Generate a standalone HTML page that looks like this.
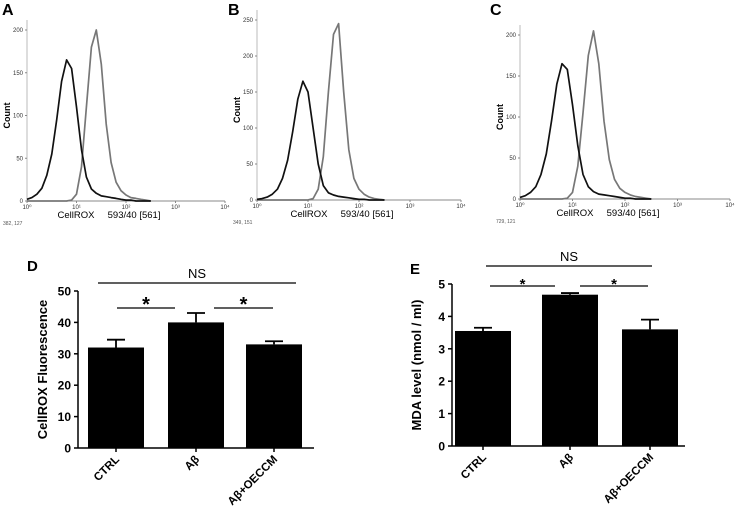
<!DOCTYPE html>
<html><head><meta charset="utf-8"><style>
body{margin:0;background:#fff;width:738px;height:512px;overflow:hidden}
svg{display:block;font-family:"Liberation Sans",sans-serif}
</style></head><body>
<svg id="fig" width="738" height="512" viewBox="0 0 738 512"></svg>
<script>
// ---- Histogram data (counts at log10 steps of 0.1 from 0 to 2.5) ----
const logSteps = [0,0.1,0.2,0.3,0.4,0.5,0.6,0.7,0.8,0.9,1.0,1.1,1.2,1.3,1.4,1.5,1.6,1.7,1.8,1.9,2.0,2.1,2.2,2.3,2.4,2.5];
const blackA = [2,4,8,15,30,55,95,140,165,155,110,60,28,14,9,6,5,4,3,2,1,1,0,0,0,0];
const grayA  = [0,0,0,0,0,0,0,0,0,1,8,40,110,180,200,160,90,45,22,12,7,4,3,2,1,0];
const blackB = [1,2,4,8,15,30,55,95,140,165,150,100,50,20,10,7,5,4,3,2,1,1,0,0,0,0];
const grayB  = [0,0,0,0,0,0,0,0,0,0,0,2,15,60,150,230,245,150,70,30,15,8,4,2,1,0];
const blackC = [2,4,8,15,30,55,95,140,165,158,115,65,30,15,9,6,5,4,3,2,1,1,0,0,0,0];
const grayC  = [0,0,0,0,0,0,0,0,0,1,8,40,105,175,205,165,95,48,24,13,8,5,3,2,1,0];
const decadeLabels = ["10⁰","10¹","10²","10³","10⁴"];
// ---- Bar data ----
const categories = ["CTRL","Aβ","Aβ+OECCM"];
const rosValues = [32,40,33];
const rosErrors = [2.5,3,1];
const rosTicks = [0,10,20,30,40,50];
const mdaValues = [3.55,4.67,3.6];
const mdaErrors = [0.1,0.05,0.3];
const mdaTicks = [0,1,2,3,4,5];

const NS="http://www.w3.org/2000/svg";
const svg=document.getElementById('fig');
function mk(tag,attrs,parent,text){const e=document.createElementNS(NS,tag);for(const k in attrs)e.setAttribute(k,attrs[k]);if(text!==undefined)e.textContent=text;(parent||svg).appendChild(e);return e;}

function histPanel(letter,x0,x1,y0,yTop,yMaxVal,ticksY,black,gray,corner,lx){
  const g=mk('g',{});
  
  
  const xs=l=>x0+(x1-x0)*l/4;
  const ys=v=>y0-(y0-yTop)*v/yMaxVal;
  const lab=mk('text',{x:lx,y:15,'font-size':16,'font-weight':'bold'},g,letter);
  
  
  mk('line',{x1:x0,y1:y0,x2:x0,y2:yTop-10,stroke:'#bbb','stroke-width':1},g);
  mk('line',{x1:x0,y1:y0,x2:x1,y2:y0,stroke:'#888','stroke-width':1},g);
  ticksY.forEach(t=>{const y=ys(t);
    mk('line',{x1:x0-2,y1:y,x2:x0,y2:y,stroke:'#888'},g);
    const tt=mk('text',{x:x0-4,y:y+2,'font-size':6,'text-anchor':'end',fill:'#333'},g,t);
    });
  decadeLabels.forEach((d,i)=>{const x=xs(i);
    mk('line',{x1:x,y1:y0,x2:x,y2:y0+2,stroke:'#888'},g);
    const tt=mk('text',{x:x,y:y0+8,'font-size':6,'text-anchor':'middle',fill:'#333'},g,d);
    });
  const yt=mk('text',{x:0,y:0,'font-size':9,'font-weight':'bold',transform:`translate(${x0-17},${(y0+yTop)/2}) rotate(-90)`,'text-anchor':'middle'},g,'Count');
  
  const xt=mk('text',{x:(x0+x1)/2-17,y:y0+17,'font-size':9.5,'text-anchor':'middle',style:'white-space:pre'},g,'CellROX     593/40 [561]');
  
  const cn=mk('text',{x:x0-24,y:y0+24,'font-size':5,fill:'#555'},g,corner);
  
  [[gray,'#777','gray'],[black,'#111','black']].forEach(([arr,col,nm])=>{
    let d='';arr.forEach((v,i)=>{d+=(i?'L':'M')+xs(logSteps[i]).toFixed(1)+','+ys(v).toFixed(1);});
    const p=mk('path',{d:d,fill:'none',stroke:col,'stroke-width':1.7,'stroke-linejoin':'round'},g);
    
  });
}
histPanel('A',27,225,201,30,200,[0,50,100,150,200],blackA,grayA,'382, 127',2);
histPanel('B',257,461,200,20,250,[0,50,100,150,200,250],blackB,grayB,'349, 151',228);
histPanel('C',520,730,199,35,200,[0,50,100,150,200],blackC,grayC,'729, 121',490);

function barPanel(letter,lx,ly,ax,axEnd,y0,yTop,maxV,ticks,vals,errs,barX,barW,title,sig){
  const g=mk('g',{});
  
  
  const ys=v=>y0-(y0-yTop)*v/maxV;
  const lab=mk('text',{x:lx,y:ly,'font-size':15,'font-weight':'bold'},g,letter);
  
  mk('line',{x1:ax,y1:y0,x2:ax,y2:yTop,stroke:'#000','stroke-width':1.5},g);
  mk('line',{x1:ax,y1:y0,x2:axEnd,y2:y0,stroke:'#000','stroke-width':1.5},g);
  ticks.forEach(t=>{const y=ys(t);
    mk('line',{x1:ax-4,y1:y,x2:ax,y2:y,stroke:'#000','stroke-width':1.5},g);
    const tt=mk('text',{x:ax-7,y:y+4.5,'font-size':12,'font-weight':'bold','text-anchor':'end'},g,t);
    });
  const yt=mk('text',{x:0,y:0,'font-size':13,'font-weight':'bold','text-anchor':'middle',transform:`translate(${ax-31},${(y0+yTop)/2}) rotate(-90)`},g,title);
  
  vals.forEach((v,i)=>{
    const x=barX[i],cx=x+barW/2;
    const top=ys(v),et=ys(v+errs[i]);
    mk('line',{x1:cx,y1:top,x2:cx,y2:et,stroke:'#000','stroke-width':1.8},g);
    mk('line',{x1:cx-9,y1:et,x2:cx+9,y2:et,stroke:'#000','stroke-width':1.8},g);
    const b=mk('rect',{x:x,y:top,width:barW,height:y0-top,fill:'#000'},g);
    
    
    mk('line',{x1:cx,y1:y0,x2:cx,y2:y0+4,stroke:'#000','stroke-width':1.5},g);
    const c=mk('text',{x:0,y:0,'font-size':11.5,'font-weight':'bold','text-anchor':'end',transform:`translate(${cx+4},${y0+12}) rotate(-45)`},g,categories[i]);
    
  });
  sig.forEach(s=>{
    mk('line',{x1:s[0],y1:s[2],x2:s[1],y2:s[2],stroke:'#000','stroke-width':1.3},g);
    const t=mk('text',{x:(s[0]+s[1])/2,y:s[2]-(s[3]==='NS'?5:-3),'font-size':s[4],'font-weight':s[3]==='NS'?'normal':'bold','text-anchor':'middle'},g,s[3]);
    
  });
}
barPanel('D',27,271,78,314,448,291,50,rosTicks,rosValues,rosErrors,[88,168,246],56,'CellROX Fluorescence',
  [[98,296,283,'NS',13],[117,175,308,'*',20],[214,273,308,'*',20]]);
barPanel('E',410,274,452,685,446,284,5,mdaTicks,mdaValues,mdaErrors,[455,542,622],56,'MDA level (nmol / ml)',
  [[486,652,266,'NS',13],[490,555,286,'*',15],[580,648,286,'*',15]]);
</script>
</body></html>
